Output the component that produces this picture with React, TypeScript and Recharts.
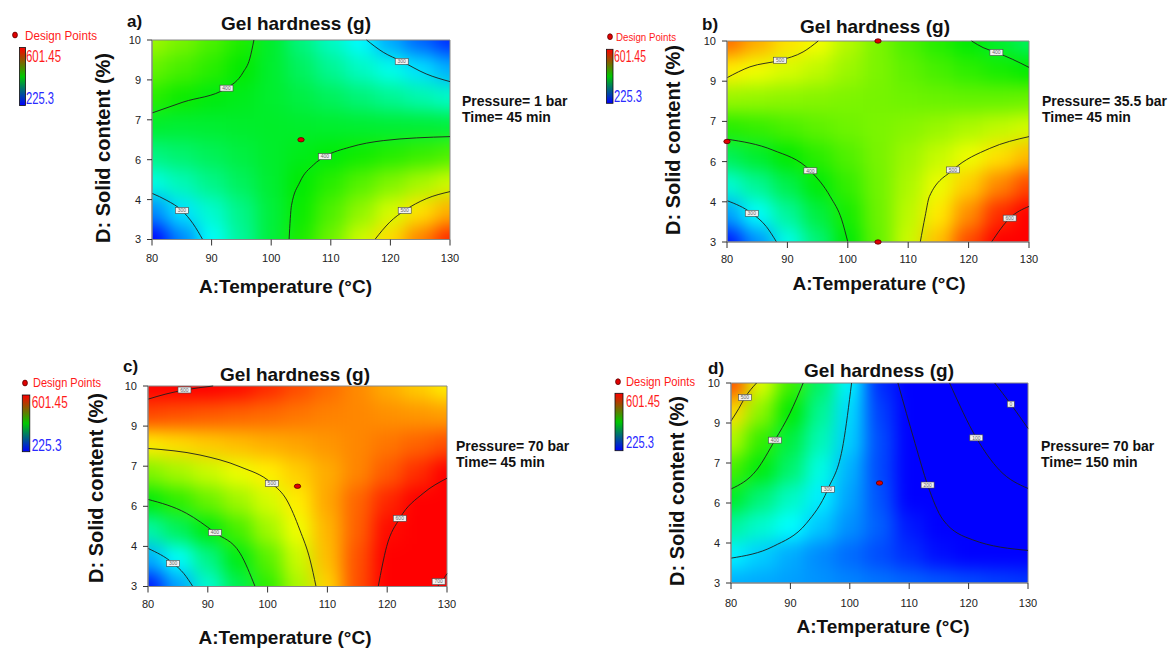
import React from 'react';
import { ComposedChart, XAxis, YAxis, Scatter, Line, ReferenceArea } from 'recharts';

const FONT = '"Liberation Sans", Arial, Helvetica, sans-serif';

// ---------------- data ----------------
const temperature = [80, 85, 90, 95, 100, 105, 110, 115, 120, 125, 130];
const solidContent = [3, 4, 5, 6, 7, 8, 9, 10];
const xTicks = [80, 90, 100, 110, 120, 130];
const yTicks = [3, 4.4, 5.8, 7.2, 8.6, 10];
const yTickLabels = ['3', '4', '6', '7', '9', '10'];
const scaleHigh = 601.45;
const scaleLow = 225.3;
const titleText = 'Gel hardness (g)';
const xLabelText = 'A:Temperature (°C)';
const yLabelText = 'D: Solid content (%)';
const legendTitle = 'Design Points';

const hardnessA = [
  [225, 268, 310, 345, 380, 413, 446, 484, 516, 548, 580],
  [270, 299, 326, 352, 380, 406, 433, 460, 487, 514, 532],
  [318, 335, 352, 368, 384, 401, 418, 436, 453, 469, 484],
  [355, 362, 370, 378, 386, 393, 399, 408, 416, 424, 432],
  [385, 383, 384, 386, 387, 386, 385, 384, 383, 382, 380],
  [418, 407, 397, 392, 385, 377, 368, 358, 348, 338, 328],
  [442, 430, 418, 403, 385, 367, 348, 330, 315, 298, 282],
  [465, 450, 432, 414, 386, 356, 330, 307, 280, 258, 240],
];
const hardnessB = [
  [232, 272, 316, 358, 400, 442, 483, 526, 568, 610, 648],
  [278, 310, 345, 378, 411, 445, 477, 511, 544, 578, 608],
  [324, 347, 374, 399, 423, 447, 471, 496, 521, 546, 568],
  [370, 385, 403, 419, 434, 450, 465, 481, 497, 514, 528],
  [417, 423, 431, 439, 446, 451, 456, 463, 471, 479, 486],
  [463, 461, 458, 455, 452, 449, 446, 444, 442, 442, 444],
  [509, 498, 488, 478, 464, 451, 440, 430, 420, 411, 403],
  [555, 533, 514, 500, 474, 451, 432, 416, 401, 385, 368],
];
const hardnessC = [
  [232, 278, 325, 372, 420, 470, 519, 566, 615, 665, 715],
  [282, 310, 352, 395, 437, 483, 527, 565, 604, 645, 684],
  [340, 368, 397, 430, 466, 498, 530, 560, 590, 622, 654],
  [398, 420, 443, 465, 487, 510, 535, 558, 580, 600, 624],
  [453, 468, 482, 496, 509, 521, 533, 547, 562, 578, 594],
  [510, 516, 522, 527, 532, 536, 541, 546, 552, 559, 566],
  [568, 565, 562, 559, 556, 552, 548, 546, 543, 541, 538],
  [625, 613, 602, 590, 579, 567, 556, 545, 533, 522, 510],
];
const hardnessD = [
  [282, 280, 277, 273, 268, 263, 258, 254, 250, 246, 243],
  [304, 292, 281, 270, 260, 250, 240, 230, 221, 213, 205],
  [344, 326, 308, 290, 272, 256, 233, 210, 190, 175, 160],
  [388, 358, 330, 303, 278, 252, 222, 195, 165, 138, 114],
  [430, 397, 362, 318, 283, 249, 216, 180, 141, 103, 70],
  [472, 423, 378, 335, 292, 250, 208, 160, 111, 64, 20],
  [516, 458, 401, 348, 296, 246, 195, 143, 91, 36, -28],
  [565, 491, 427, 364, 304, 240, 178, 120, 58, -7, -72],
];

// contour lines [temperature, solid content]
const contoursA = [
  [[80, 7.44], [85.2, 7.82], [92.5, 8.31], [95.3, 8.87], [96.4, 9.34], [97.1, 10]],
  [[116, 10], [118.8, 9.57], [121.9, 9.25], [126, 8.81], [130, 8.54]],
  [[103, 3], [103.4, 4.19], [104.8, 5.01], [107.1, 5.62], [109, 5.91], [113.2, 6.24], [118.8, 6.47], [130, 6.61]],
  [[117.4, 3], [119.9, 3.61], [122.4, 4.02], [126, 4.43], [130, 4.68]],
  [[80, 4.62], [82.5, 4.37], [85, 4.02], [86.9, 3.55], [88.5, 3]],
];
const contoursB = [
  [[80, 8.72], [83.8, 9.1], [88.8, 9.33], [92.6, 9.62], [95.1, 10]],
  [[120.5, 10], [122.4, 9.77], [124.6, 9.6], [127.3, 9.36], [130, 9.08]],
  [[80, 6.58], [87.6, 6.2], [93.8, 5.48], [97.1, 4.58], [99, 3.77], [100, 3]],
  [[80, 4.44], [84.1, 4.0], [86.5, 3.54], [88.2, 3]],
  [[112, 3], [112.8, 3.89], [113.5, 4.58], [117.4, 5.51], [123.5, 6.26], [130, 6.67]],
  [[123.8, 3], [126.8, 3.83], [130, 4.24]],
];
const contoursC = [
  [[80, 9.54], [83, 9.72], [86.1, 9.86], [90.9, 10]],
  [[80, 7.82], [88.7, 7.59], [95.4, 7.18], [100.7, 6.6], [103.2, 6.02], [105.4, 4.97], [107.1, 3.93], [108.1, 3]],
  [[80, 6.04], [86.4, 5.56], [91.2, 4.88], [95.4, 4.16], [97.9, 3]],
  [[80, 4.33], [84.2, 3.81], [86, 3.45], [87.5, 3]],
  [[118.5, 3], [119.9, 4.39], [122.1, 5.38], [126, 6.25], [130, 6.78]],
  [[128.4, 3], [129.2, 3.2], [130, 3.45]],
];
const contoursD = [
  [[80, 8.67], [81.3, 9.1], [82.35, 9.49], [84.3, 10]],
  [[80, 6.29], [84.3, 6.95], [87.4, 8.0], [89.9, 8.93], [92.15, 10]],
  [[80, 3.87], [87.1, 4.28], [92.7, 5.09], [96.3, 6.28], [98.9, 7.88], [100.3, 10]],
  [[108.1, 10], [111, 7.88], [113.1, 6.43], [115.7, 5.21], [120.7, 4.51], [130, 4.14]],
  [[116.8, 10], [121.3, 8.08], [125.2, 6.95], [130, 6.31]],
  [[124.4, 10], [127.1, 9.26], [130, 8.41]],
];

// contour value tags
const tagsA = [
  { x: 92.5, y: 8.31, t: '400' }, { x: 121.9, y: 9.25, t: '300' }, { x: 109, y: 5.91, t: '400' },
  { x: 122.4, y: 4.02, t: '500' }, { x: 85, y: 4.02, t: '300' },
];
const tagsB = [
  { x: 88.8, y: 9.33, t: '500' }, { x: 124.6, y: 9.6, t: '400' }, { x: 93.8, y: 5.48, t: '400' },
  { x: 84.1, y: 4.0, t: '300' }, { x: 117.4, y: 5.51, t: '500' }, { x: 126.8, y: 3.83, t: '600' },
];
const tagsC = [
  { x: 86.1, y: 9.86, t: '600' }, { x: 100.7, y: 6.6, t: '500' }, { x: 91.2, y: 4.88, t: '400' },
  { x: 84.2, y: 3.81, t: '300' }, { x: 122.1, y: 5.38, t: '600' }, { x: 128.6, y: 3.17, t: '700' },
];
const tagsD = [
  { x: 82.35, y: 9.49, t: '500' }, { x: 87.4, y: 8.0, t: '400' }, { x: 96.3, y: 6.28, t: '300' },
  { x: 113.1, y: 6.43, t: '200' }, { x: 121.3, y: 8.08, t: '100' }, { x: 127.1, y: 9.26, t: '0' },
];

// design points
const designA = [{ x: 105, y: 6.5 }];
const designB = [{ x: 105, y: 10 }, { x: 80, y: 6.5 }, { x: 105, y: 3 }];
const designC = [{ x: 105, y: 6.5 }];
const designD = [{ x: 105, y: 6.5 }];

const conditionsA = ['Pressure= 1 bar', 'Time= 45 min'];
const conditionsB = ['Pressure= 35.5 bar', 'Time= 45 min'];
const conditionsC = ['Pressure= 70 bar', 'Time= 45 min'];
const conditionsD = ['Pressure= 70 bar', 'Time= 150 min'];
const panelLetters = ['a)', 'b)', 'c)', 'd)'];

// ---------------- helpers ----------------
const rampPos = [0, 0.22, 0.47, 0.74, 0.98];
const rampCol = [[0, 0, 255], [0, 255, 255], [0, 235, 0], [255, 255, 0], [255, 0, 0]];
function heatColor(v: number) {
  const t = Math.max(0, Math.min(1, (v - scaleLow) / (scaleHigh - scaleLow)));
  let i = 0;
  while (i < rampPos.length - 2 && t > rampPos[i + 1]) i++;
  const f = Math.max(0, Math.min(1, (t - rampPos[i]) / (rampPos[i + 1] - rampPos[i])));
  const c = rampCol[i].map((a, k) => Math.round(a + (rampCol[i + 1][k] - a) * f));
  return `rgb(${c[0]},${c[1]},${c[2]})`;
}

function buildCells(grid: number[][]) {
  const out: { x: number; y: number; v: number }[] = [];
  grid.forEach((row, j) => row.forEach((v, i) => out.push({ x: temperature[i], y: solidContent[j], v })));
  return out;
}
const toPts = (arr: number[][]) => arr.map(([x, y]) => ({ x, y }));

function makeHeatShape(plotW: number, plotH: number) {
  const cw = plotW / (temperature.length - 1);
  const ch = plotH / (solidContent.length - 1);
  const pad = 45;
  return (props: any) => {
    const { cx, cy, payload } = props;
    if (cx == null || cy == null || !payload) return null;
    let x0 = cx - cw / 2, x1 = cx + cw / 2, y0 = cy - ch / 2, y1 = cy + ch / 2;
    if (payload.x === temperature[0]) x0 -= pad;
    if (payload.x === temperature[temperature.length - 1]) x1 += pad;
    if (payload.y === solidContent[0]) y1 += pad;
    if (payload.y === solidContent[solidContent.length - 1]) y0 -= pad;
    return <rect x={x0} y={y0} width={x1 - x0 + 0.6} height={y1 - y0 + 0.6} fill={heatColor(payload.v)} />;
  };
}

const TagShape = (props: any) => {
  const { cx, cy, payload } = props;
  if (cx == null || cy == null || !payload) return null;
  const w = payload.t.length * 3 + 4;
  return (
    <g>
      <rect x={cx - w / 2} y={cy - 3} width={w} height={6} fill="#f2f2f2" stroke="#444" strokeWidth={0.6} />
      <text x={cx} y={cy + 1.8} fontSize={5} textAnchor="middle" fill="#666" fontFamily={FONT}>{payload.t}</text>
    </g>
  );
};

const DesignShape = (props: any) => {
  const { cx, cy } = props;
  if (cx == null || cy == null) return null;
  return <ellipse cx={cx} cy={cy} rx={3.2} ry={2.2} fill="#e00000" stroke="#5a0000" strokeWidth={0.8} />;
};

// ---------------- layout ----------------
const panels = [
  {
    id: 'a', grid: hardnessA, contours: contoursA, tags: tagsA, design: designA, cond: conditionsA,
    plot: { x: 152, y: 39.5, w: 298, h: 199.5 }, xTickMargin: 9,
    letter: [127, 27], title: [296, 30], xLab: [285.5, 293], yLab: [110, 148], condPos: [462, 106],
    legend: { dot: [15, 35], dp: [25, 39.5, 72, 13], bar: [19.5, 47.5, 6, 58], hi: [26, 61.5, 35], lo: [26, 104, 28] },
  },
  {
    id: 'b', grid: hardnessB, contours: contoursB, tags: tagsB, design: designB, cond: conditionsB,
    plot: { x: 727, y: 41, w: 302, h: 201 }, xTickMargin: 7,
    letter: [702, 30], title: [875, 33], xLab: [879, 290], yLab: [680, 140], condPos: [1042, 106],
    legend: { dot: [610, 36.7], dp: [616, 40.5, 60, 11.5], bar: [606.5, 49.3, 6.5, 54], hi: [614, 61.7, 32], lo: [614, 101.7, 28] },
  },
  {
    id: 'c', grid: hardnessC, contours: contoursC, tags: tagsC, design: designC, cond: conditionsC,
    plot: { x: 148, y: 386, w: 299, h: 200.5 }, xTickMargin: 8,
    letter: [123, 372], title: [295, 381], xLab: [285, 643.5], yLab: [103, 488], condPos: [456, 451],
    legend: { dot: [25, 383], dp: [33, 387.3, 68, 13], bar: [22.3, 395, 7.5, 56.7], hi: [31.7, 408.3, 36], lo: [31.7, 450.7, 30] },
  },
  {
    id: 'd', grid: hardnessD, contours: contoursD, tags: tagsD, design: designD, cond: conditionsD,
    plot: { x: 731, y: 383, w: 297, h: 200 }, xTickMargin: 10,
    letter: [708, 374], title: [879, 377], xLab: [883, 633], yLab: [684, 491], condPos: [1041, 451],
    legend: { dot: [618, 381.7], dp: [626, 386, 69, 13], bar: [615, 393.3, 8, 57.4], hi: [626, 406.7, 34], lo: [626, 448.3, 28] },
  },
];

const MARGIN = { top: 10, right: 10, bottom: 0, left: 20 };
const Y_AXIS_W = 40;
const X_AXIS_H = 30;

function Panel({ p }: { p: any }) {
  const W = p.plot.w + MARGIN.left + Y_AXIS_W + MARGIN.right;
  const H = p.plot.h + MARGIN.top + X_AXIS_H + MARGIN.bottom;
  const cells = buildCells(p.grid);
  const heatShape = makeHeatShape(p.plot.w, p.plot.h);
  const tick = { fontSize: 11, fill: '#222', fontFamily: FONT };
  return (
    <div style={{ position: 'absolute', left: p.plot.x - MARGIN.left - Y_AXIS_W, top: p.plot.y - MARGIN.top, width: W, height: H }}>
      <ComposedChart width={W} height={H} margin={MARGIN}>
        <XAxis
          type="number" dataKey="x" domain={[80, 130]} ticks={xTicks} interval={0} height={X_AXIS_H}
          tickSize={6} tickMargin={p.xTickMargin} tick={tick} axisLine={{ stroke: '#888' }} tickLine={{ stroke: '#333' }}
        />
        <YAxis
          type="number" dataKey="y" domain={[3, 10]} ticks={yTicks} interval={0} width={Y_AXIS_W}
          tickSize={5} tickMargin={6} tick={tick} axisLine={{ stroke: '#888' }} tickLine={{ stroke: '#333' }}
          tickFormatter={(v: number) => yTickLabels[yTicks.indexOf(v)] ?? String(v)}
        />
        <Scatter data={cells} shape={heatShape} className={`heat-${p.id}`} isAnimationActive={false} zIndex={-20} />
        <ReferenceArea x1={80} x2={130} y1={3} y2={10} fill="none" stroke="#888" strokeWidth={1} />
        {p.contours.map((c: number[][], i: number) => (
          <Line
            key={i} data={toPts(c)} dataKey="y" type="monotone" stroke="#1e1e1e" strokeWidth={0.9}
            dot={false} activeDot={false} isAnimationActive={false}
          />
        ))}
        <Scatter data={p.tags} shape={TagShape} isAnimationActive={false} />
        <Scatter data={p.design} shape={DesignShape} isAnimationActive={false} />
      </ComposedChart>
    </div>
  );
}

function Overlay() {
  return (
    <svg width={1173} height={650} style={{ position: 'absolute', left: 0, top: 0, pointerEvents: 'none' }} fontFamily={FONT}>
      {panels.map((p, k) => {
        const L = p.legend;
        return (
          <g key={p.id}>
            <text x={p.letter[0]} y={p.letter[1]} fontSize={17} fontWeight="bold" fill="#111">{panelLetters[k]}</text>
            <text x={p.title[0]} y={p.title[1]} fontSize={19} fontWeight="bold" textAnchor="middle" fill="#111">{titleText}</text>
            <text x={p.xLab[0]} y={p.xLab[1]} fontSize={19} fontWeight="bold" textAnchor="middle" fill="#111">{xLabelText}</text>
            <text
              x={p.yLab[0]} y={p.yLab[1]} fontSize={20} fontWeight="bold" textAnchor="middle" fill="#111"
              transform={`rotate(-90 ${p.yLab[0]} ${p.yLab[1]})`}
            >{yLabelText}</text>
            {p.cond.map((c: string, i: number) => (
              <text key={i} x={p.condPos[0]} y={p.condPos[1] + i * 16} fontSize={14} fontWeight="bold" fill="#111">{c}</text>
            ))}
            <ellipse cx={L.dot[0]} cy={L.dot[1]} rx={2.4} ry={2.9} fill="#e00000" stroke="#5a0000" strokeWidth={0.8} />
            <text x={L.dp[0]} y={L.dp[1]} fontSize={L.dp[3]} fill="#ff1a1a" textLength={L.dp[2]} lengthAdjust="spacingAndGlyphs">{legendTitle}</text>
            <rect x={L.bar[0]} y={L.bar[1]} width={L.bar[2]} height={L.bar[3]} fill="url(#legendGrad)" stroke="#111" strokeWidth={0.8} />
            <text x={L.hi[0]} y={L.hi[1]} fontSize={17} fill="#ff1a1a" textLength={L.hi[2]} lengthAdjust="spacingAndGlyphs">{scaleHigh.toFixed(2)}</text>
            <text x={L.lo[0]} y={L.lo[1]} fontSize={17} fill="#2a2aff" textLength={L.lo[2]} lengthAdjust="spacingAndGlyphs">{scaleLow.toFixed(1)}</text>
          </g>
        );
      })}
    </svg>
  );
}

export default function App() {
  const css = panels
    .map((p) => `.heat-${p.id}{filter:url(#heatBlur);clip-path:url(#clip-${p.id});}`)
    .join('\n');
  return (
    <div style={{ position: 'absolute', left: 0, top: 0, width: 1173, height: 650, background: '#fff', overflow: 'hidden' }}>
      <style>{css}</style>
      <svg width={0} height={0} style={{ position: 'absolute' }}>
        <defs>
          <filter id="heatBlur" x="-20%" y="-20%" width="140%" height="140%" colorInterpolationFilters="sRGB">
            <feGaussianBlur stdDeviation="9" />
          </filter>
          {panels.map((p) => (
            <clipPath key={p.id} id={`clip-${p.id}`} clipPathUnits="userSpaceOnUse">
              <rect x={MARGIN.left + Y_AXIS_W} y={MARGIN.top} width={p.plot.w} height={p.plot.h} />
            </clipPath>
          ))}
          <linearGradient id="legendGrad" x1="0" y1="0" x2="0" y2="1">
            <stop offset="0%" stopColor="#ff0000" />
            <stop offset="50%" stopColor="#00c800" />
            <stop offset="100%" stopColor="#0000ff" />
          </linearGradient>
        </defs>
      </svg>
      {panels.map((p) => (
        <Panel key={p.id} p={p} />
      ))}
      <Overlay />
    </div>
  );
}
